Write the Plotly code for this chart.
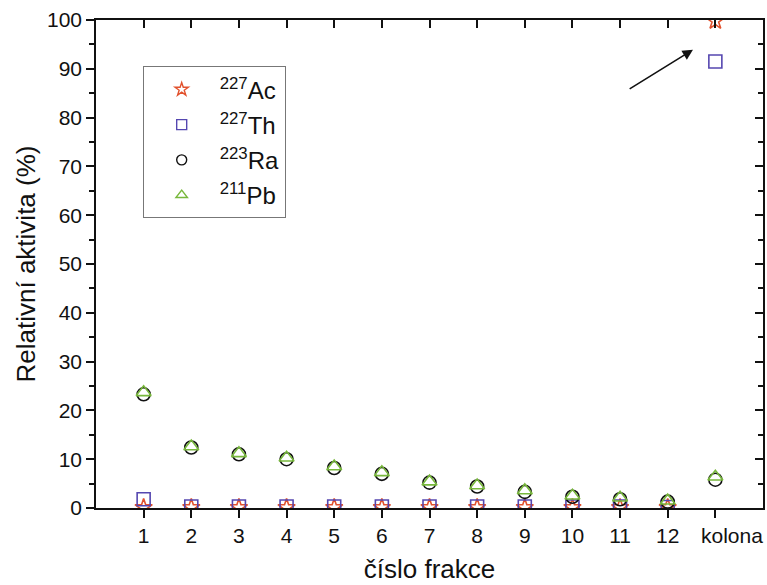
import plotly.graph_objects as go

positions = list(range(1, 14))
tick_labels = [str(i) for i in range(1, 13)] + ["kolona"]

ac227 = [0.1, 0.1, 0.1, 0.1, 0.1, 0.1, 0.1, 0.1, 0.1, 0.1, 0.1, 0.1, 99.8]
th227 = [1.8, 0.3, 0.3, 0.3, 0.3, 0.3, 0.3, 0.3, 0.3, 0.3, 0.3, 0.2, 91.5]
ra223 = [23.3, 12.4, 11.0, 10.0, 8.2, 7.0, 5.2, 4.4, 3.3, 2.3, 1.8, 1.3, 5.8]
pb211 = [23.7, 12.6, 11.2, 10.3, 8.5, 7.3, 5.4, 4.6, 3.6, 2.5, 2.1, 1.5, 6.4]

series = [
    ("<sup>227</sup>Ac", ac227, "star-open", "#e2522e"),
    ("<sup>227</sup>Th", th227, "square-open", "#5547b0"),
    ("<sup>223</sup>Ra", ra223, "circle-open", "#111111"),
    ("<sup>211</sup>Pb", pb211, "triangle-up-open", "#78b83c"),
]

fig = go.Figure()
for i, (name, vals, sym, col) in enumerate(series):
    fig.add_trace(go.Scatter(
        x=positions, y=vals, mode="markers", name=name, showlegend=False,
        legendgroup=f"g{i}",
        marker=dict(symbol=sym, size=13, color=col, line=dict(width=1.6, color=col)),
    ))
    # smaller symbol shown in the legend box
    fig.add_trace(go.Scatter(
        x=[None], y=[None], mode="markers", name=name, showlegend=True,
        legendgroup=f"g{i}",
        marker=dict(symbol=sym, size=10, color=col, line=dict(width=1.4, color=col)),
    ))

font_family = "Arial, Liberation Sans, sans-serif"
tick_font = dict(family=font_family, size=21, color="#111")

# the last category label sits a little right of its tick, so it is drawn separately
shown_ticks = tick_labels[:-1] + [""]

fig.update_layout(
    width=767, height=585,
    margin=dict(l=96, r=4, t=20, b=77),
    paper_bgcolor="white", plot_bgcolor="white",
    font=dict(family=font_family, color="#111"),
    xaxis=dict(
        range=[0, 14], tickvals=positions, ticktext=shown_ticks, tickangle=0,
        ticks="outside", ticklen=8, tickwidth=1.5, tickcolor="#111",
        showline=True, linecolor="#111", linewidth=1.5, showgrid=False, zeroline=False,
        tickfont=tick_font, automargin=False,
        title=dict(text="číslo frakce", font=dict(size=26), standoff=14),
    ),
    yaxis=dict(
        range=[0, 100], tickvals=list(range(0, 101, 10)),
        ticks="outside", ticklen=8, tickwidth=1.5, tickcolor="#111",
        minor=dict(dtick=5, ticks="outside", ticklen=5, tickwidth=1.5, tickcolor="#111"),
        showline=True, linecolor="#111", linewidth=1.5, showgrid=False, zeroline=False,
        tickfont=tick_font, automargin=False,
        title=dict(text="Relativní aktivita (%)", font=dict(size=26), standoff=4),
    ),
    xaxis2=dict(
        overlaying="x", side="top", range=[0, 14], tickvals=positions,
        showticklabels=False, ticks="inside", ticklen=8, tickwidth=1.5, tickcolor="#111",
        showline=True, linecolor="#111", linewidth=1.5, showgrid=False, zeroline=False,
    ),
    yaxis2=dict(
        overlaying="y", side="right", range=[0, 100], tickvals=list(range(0, 101, 10)),
        showticklabels=False, ticks="inside", ticklen=8, tickwidth=1.5, tickcolor="#111",
        minor=dict(dtick=5, ticks="inside", ticklen=5, tickwidth=1.5, tickcolor="#111"),
        showline=True, linecolor="#111", linewidth=1.5, showgrid=False, zeroline=False,
    ),
    legend=dict(
        x=0.07, y=0.905, xanchor="left", yanchor="top",
        bgcolor="white", bordercolor="#777", borderwidth=1,
        font=dict(size=24, color="#111"), itemsizing="trace",
        itemwidth=66, tracegroupgap=1,
    ),
    showlegend=True,
)

# invisible trace to activate the mirrored axes
fig.add_trace(go.Scatter(x=[None], y=[None], xaxis="x2", yaxis="y2",
                         showlegend=False, hoverinfo="skip"))

fig.add_annotation(
    x=positions[-1], y=0, xref="x", yref="y", text=tick_labels[-1],
    showarrow=False, xanchor="center", yanchor="middle", xshift=17, yshift=-27,
    font=tick_font,
)

fig.add_annotation(
    x=12.53, y=93.9, ax=11.17, ay=85.7, xref="x", yref="y", axref="x", ayref="y",
    text="", showarrow=True, arrowhead=2, arrowsize=1.3, arrowwidth=1.6, arrowcolor="#111",
)

fig.write_html("out.html")
